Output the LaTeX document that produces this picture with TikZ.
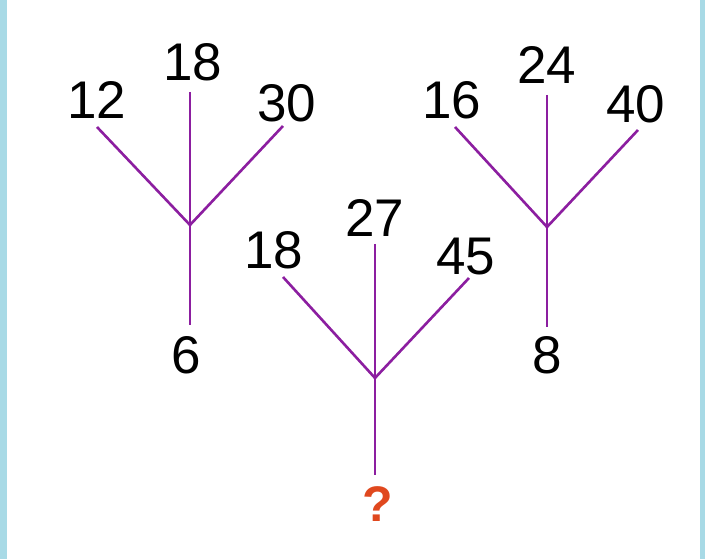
\documentclass[tikz,border=0pt]{standalone}
\usepackage{fontspec}
\setmainfont{Liberation Sans}
\definecolor{branch}{RGB}{140,30,160}
\definecolor{qmark}{RGB}{224,72,30}
\definecolor{edge}{RGB}{168,218,230}
\begin{document}
\begin{tikzpicture}[x=1pt,y=1pt,
  num/.style={font=\fontsize{53}{53}\selectfont, inner sep=0pt},
  br/.style={draw=branch, line width=2.6pt},
  q/.style={font=\fontsize{50}{50}\selectfont\bfseries, text=qmark, inner sep=0pt}]
\useasboundingbox (0,0) rectangle (705,559);
\fill[white] (0,0) rectangle (705,559);
\fill[edge] (0,0) rectangle (7,559);
\fill[edge] (700,0) rectangle (705,559);
% tree 1
\coordinate (j1) at (190,334);
\coordinate (l1) at (97,432);
\coordinate (c1) at (190,467);
\coordinate (r1) at (283,433);
\coordinate (s1) at (190,234);
\draw[br] (l1) -- (j1);
\draw[br] (c1) -- (j1);
\draw[br] (r1) -- (j1);
\draw[br] (j1) -- (s1);
\node[num] (t1a) at (97,459) {12};
\node[num] (t1b) at (193,497) {18};
\node[num] (t1c) at (287,456) {30};
\node[num] (t1d) at (186,204) {6};
% tree 2
\coordinate (j2) at (375,181);
\coordinate (l2) at (283,282);
\coordinate (c2) at (375,315);
\coordinate (r2) at (469,281);
\coordinate (s2) at (375,84);
\draw[br] (l2) -- (j2);
\draw[br] (c2) -- (j2);
\draw[br] (r2) -- (j2);
\draw[br] (j2) -- (s2);
\node[num] (t2a) at (274,309) {18};
\node[num] (t2b) at (375,341) {27};
\node[num] (t2c) at (466,302) {45};
\node[q] (t2d) at (378,55) {?};
% tree 3
\coordinate (j3) at (547,332);
\coordinate (l3) at (455,432);
\coordinate (c3) at (547,464);
\coordinate (r3) at (638,429);
\coordinate (s3) at (547,232);
\draw[br] (l3) -- (j3);
\draw[br] (c3) -- (j3);
\draw[br] (r3) -- (j3);
\draw[br] (j3) -- (s3);
\node[num] (t3a) at (452,459) {16};
\node[num] (t3b) at (547,494) {24};
\node[num] (t3c) at (636,455) {40};
\node[num] (t3d) at (547,204) {8};
\end{tikzpicture}
\end{document}
